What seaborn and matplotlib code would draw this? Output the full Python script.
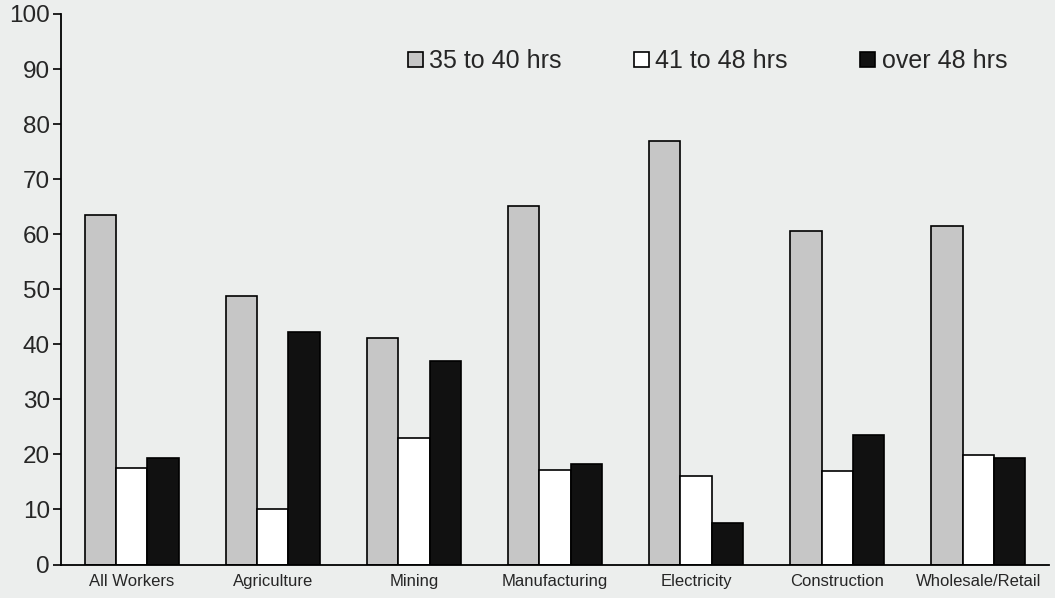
import pandas as pd
import matplotlib
matplotlib.use('Agg')
import matplotlib.pyplot as plt
import seaborn as sns

sns.set_style('white')
plt.rcParams['font.family'] = ['Liberation Sans', 'DejaVu Sans']

sectors = ['All Workers', 'Agriculture', 'Mining', 'Manufacturing',
           'Electricity', 'Construction', 'Wholesale/Retail']
hours = ['35 to 40 hrs', '41 to 48 hrs', 'over 48 hrs']
h35_40 = [63.4, 48.8, 41.1, 65.2, 77.0, 60.5, 61.4]
h41_48 = [17.5, 10.0, 22.9, 17.1, 16.1, 16.9, 19.9]
h48_plus = [19.4, 42.2, 37.0, 18.3, 7.6, 23.5, 19.3]

df = pd.DataFrame({'sector': sectors * 3,
                   'hours': [hours[0]] * 7 + [hours[1]] * 7 + [hours[2]] * 7,
                   'value': h35_40 + h41_48 + h48_plus})

bg = '#eceeed'
fig, ax = plt.subplots(figsize=(10.55, 5.98), dpi=100)
fig.patch.set_facecolor(bg)
ax.set_facecolor(bg)
fig.subplots_adjust(left=61/1055, right=1049/1055, top=1-14/598, bottom=1-564.5/598)

sns.barplot(data=df, x='sector', y='value', hue='hours', order=sectors, hue_order=hours,
            palette=['#c6c6c6', 'white', '#111111'], edgecolor='black', linewidth=1.2,
            width=0.665, gap=0, errorbar=None, ax=ax)

ax.set_xlim(-0.5, 6.5)
ax.set_ylim(0, 100)
ax.set_yticks(range(0, 101, 10))
ax.set_xlabel('')
ax.set_ylabel('')
sns.despine(ax=ax)
for s in ['left', 'bottom']:
    ax.spines[s].set_linewidth(1.3)
    ax.spines[s].set_color('black')

ax.set_xticks(range(len(sectors)))
ax.set_xticklabels(sectors, fontsize=12)
ax.set_xticks([i - 0.5 for i in range(len(sectors) + 1)], minor=True)
ax.tick_params(axis='x', which='major', length=0, pad=7)
ax.tick_params(axis='x', which='minor', length=5, width=1.2, direction='out', color='black')
ax.tick_params(axis='y', length=6, width=1.2, direction='out', color='black',
               labelsize=17.5, pad=2, left=True)

leg = ax.legend(ncol=3, frameon=False, loc='center left', bbox_to_anchor=(0.351, 0.914),
                fontsize=18, handlelength=0.6, handleheight=0.6, handletextpad=0.25,
                columnspacing=2.9, borderaxespad=0, borderpad=0)

fig.savefig('out.png', dpi=100, facecolor=bg)
